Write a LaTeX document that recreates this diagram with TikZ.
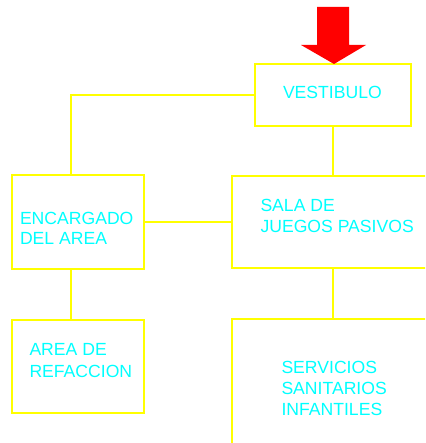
\documentclass[tikz,border=0pt]{standalone}
\usepackage{fontspec}
\setmainfont{Liberation Sans}
\usetikzlibrary{calc}
\definecolor{PlanYellow}{HTML}{FFFF00}
\definecolor{PlanCyan}{HTML}{00FFFF}
\definecolor{PlanRed}{HTML}{FF0000}

\begin{document}
\begin{tikzpicture}[x=1pt, y=-1pt, every node/.style={inner sep=0pt, outer sep=0pt},
    room/.style={draw=PlanYellow, line width=1.2pt, anchor=north west},
    roomtext/.style={anchor=north west, align=left, text=PlanCyan, font=\fontsize{17.6}{#1}\selectfont},
    roomtext/.default=20.5,
    link/.style={draw=PlanYellow, line width=1.3pt}]
    \useasboundingbox (0,0) rectangle (425,443);
    \clip (0,0) rectangle (425,443);

    \node[room, minimum width=156pt, minimum height=62pt] (vestibulo) at (255,64) {};
    \node[room, minimum width=132pt, minimum height=94pt] (encargado) at (12,175) {};
    \node[room, minimum width=220pt, minimum height=92pt] (sala) at (232,176) {};
    \node[room, minimum width=132pt, minimum height=93pt] (refaccion) at (12,320) {};
    \node[room, minimum width=220pt, minimum height=160pt] (servicios) at (232,319) {};

    \node[roomtext] (vestibulotxt) at ($(vestibulo.north west)+(28,22)$) {VESTIBULO};
    \node[roomtext=20] (encargadotxt) at ($(encargado.north west)+(8,37.5)$) {ENCARGADO\\DEL AREA};
    \node[roomtext=21] (salatxt) at ($(sala.north west)+(28.5,23)$) {SALA DE\\JUEGOS PASIVOS};
    \node[roomtext=22] (refacciontxt) at ($(refaccion.north west)+(17.5,23.3)$) {AREA DE\\REFACCION};
    \node[roomtext=20.8] (serviciostxt) at ($(servicios.north west)+(49.5,42.7)$) {SERVICIOS\\SANITARIOS\\INFANTILES};

    % entrance
    \fill[PlanRed] ($(vestibulo.north)+(1,0)$) -- ++(-33,-19) -- ++(16,0) -- ++(0,-38) -- ++(32,0) -- ++(0,38) -- ++(17,0) -- cycle;

    \draw[link] (vestibulo.west) -| ([xshift=-7pt]encargado.north);
    \draw[link] (vestibulo.south) -- (vestibulo.south |- sala.north);
    \draw[link] (encargado.east) -- (encargado.east -| sala.west);
    \draw[link] ([xshift=-7pt]encargado.south) -- ([xshift=-7pt]refaccion.north);
    \draw[link] (vestibulo.south |- sala.south) -- (vestibulo.south |- servicios.north);
\end{tikzpicture}
\end{document}
